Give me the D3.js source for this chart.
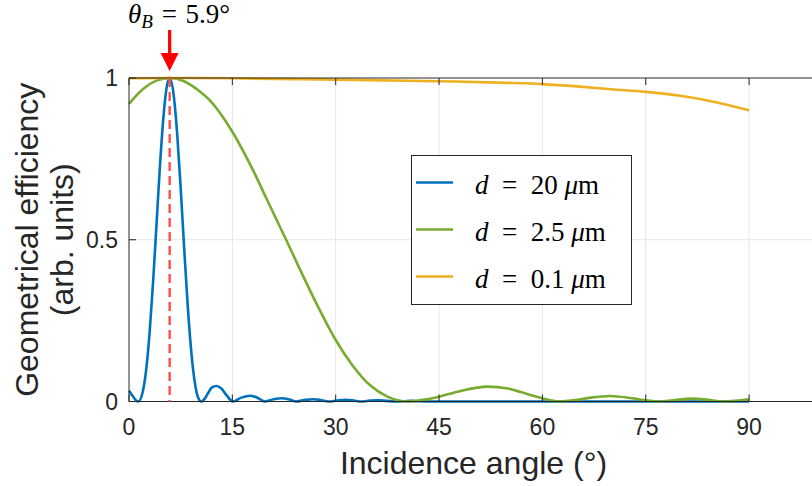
<!DOCTYPE html>
<html>
<head>
    <meta charset="utf-8">
    <title>Geometrical efficiency vs incidence angle</title>
    <script src="https://cdnjs.cloudflare.com/ajax/libs/d3/7.8.5/d3.min.js"></script>
    <style>
        body {
            margin: 0;
            padding: 0;
            background: white;
        }
        .tick-label {
            font-family: "Liberation Sans", Arial, Helvetica, sans-serif;
            font-size: 23px;
            fill: #262626;
        }
        .axis-label {
            font-family: "Liberation Sans", Arial, Helvetica, sans-serif;
            font-size: 32px;
            fill: #262626;
        }
        .math {
            font-family: "Liberation Serif", "DejaVu Serif", serif;
            fill: #000;
        }
    </style>
</head>
<body>
    <svg id="chart" width="812" height="486"></svg>

    <script>
        // Values: [angle in degrees, efficiency]
        const series20 = [
            [0, 0.033], [0.5, 0.018], [1.0, 0.004], [1.35, 0], [2.0, 0.030], [2.5, 0.099],
            [3.0, 0.215], [3.5, 0.371], [4.0, 0.550], [4.5, 0.731], [5.0, 0.880], [5.5, 0.975],
            [5.9, 1.0], [6.5, 0.945], [7.0, 0.825], [7.5, 0.660], [8.0, 0.477], [8.5, 0.304],
            [9.0, 0.163], [9.5, 0.066], [10.0, 0.014], [10.5, 0], [11.0, 0.009], [11.5, 0.027],
            [12.0, 0.043], [12.7, 0.048], [13.4, 0.040], [14.2, 0.018], [15.1, 0], [16.3, 0.012],
            [17.6, 0.018], [18.7, 0.011], [19.7, 0], [21.0, 0.007], [22.2, 0.010], [23.3, 0.006],
            [24.3, 0], [25.6, 0.005], [26.8, 0.007], [27.9, 0.004], [29.0, 0], [30.2, 0.003],
            [31.4, 0.005], [32.6, 0.003], [33.7, 0], [35.0, 0.003], [36.2, 0.004], [37.4, 0.002],
            [38.6, 0], [41.0, 0.002], [43.5, 0], [60, 0], [90, 0]
        ];
        const series25 = [
            [0, 0.92], [2, 0.965], [4, 0.992], [5.9, 1.0], [8, 0.99], [10, 0.963], [12, 0.925],
            [15, 0.834], [18, 0.715], [20, 0.625], [22.8, 0.50], [25, 0.40], [27.5, 0.29],
            [30, 0.19], [32.5, 0.11], [35, 0.05], [37.5, 0.015], [40.5, 0], [43, 0.006],
            [45, 0.015], [48, 0.032], [52, 0.046], [55, 0.04], [58, 0.022], [60, 0.01],
            [62.3, 0], [65, 0.005], [67, 0.012], [69.8, 0.017], [73, 0.01], [75, 0.004],
            [77, 0], [79, 0.004], [81.9, 0.009], [84, 0.005], [86.2, 0], [88, 0.002], [90, 0.007]
        ];
        const series01 = [
            [0, 0.999], [5.9, 1.0], [15, 0.999], [30, 0.995], [45, 0.99], [55, 0.985],
            [60, 0.981], [65, 0.974], [70, 0.965], [75, 0.957], [80, 0.945], [85, 0.926], [90, 0.90]
        ];

        const legendLabels = ['20', '2.5', '0.1'];
        const seriesColors = ['#0072BD', '#77AC30', '#EDB120'];
        const xTicks = [0, 15, 30, 45, 60, 75, 90];
        const yTicks = [0, 0.5, 1];
        const blazeAngle = 5.9;

        const width = 812;
        const height = 486;
        const plotLeft = 129, plotTop = 78, plotBottom = 401.5;

        const svg = d3.select('#chart');

        // x runs past the right edge of the picture, like the original figure
        const x = d3.scaleLinear().domain([0, 100]).range([plotLeft, plotLeft + 689]);
        const y = d3.scaleLinear().domain([0, 1]).range([plotBottom, plotTop]);

        // Grid
        const grid = svg.append('g');
        grid.selectAll('line.vgrid')
            .data(xTicks.filter(d => d > 0))
            .join('line')
            .attr('x1', d => x(d)).attr('x2', d => x(d))
            .attr('y1', plotTop).attr('y2', plotBottom)
            .attr('stroke', '#e6e6e6').attr('stroke-width', 1);
        grid.selectAll('line.hgrid')
            .data(yTicks.filter(d => d > 0 && d < 1))
            .join('line')
            .attr('x1', plotLeft).attr('x2', width)
            .attr('y1', d => y(d)).attr('y2', d => y(d))
            .attr('stroke', '#e6e6e6').attr('stroke-width', 1);

        // Curves
        const line = d3.line()
            .x(d => x(d[0]))
            .y(d => y(d[1]))
            .curve(d3.curveMonotoneX);

        const curves = [series20, series25, series01];
        svg.append('g')
            .selectAll('path')
            .data(curves)
            .join('path')
            .attr('d', d => line(d))
            .attr('fill', 'none')
            .attr('stroke', (d, i) => seriesColors[i])
            .attr('stroke-width', 2.6);

        // Axes box (left, bottom, top)
        const axisColor = '#262626';
        svg.append('line')
            .attr('x1', plotLeft).attr('x2', width).attr('y1', plotBottom).attr('y2', plotBottom)
            .attr('stroke', axisColor).attr('stroke-width', 1);
        svg.append('line')
            .attr('x1', plotLeft).attr('x2', width).attr('y1', plotTop).attr('y2', plotTop)
            .attr('stroke', axisColor).attr('stroke-width', 1);
        svg.append('line')
            .attr('x1', plotLeft).attr('x2', plotLeft).attr('y1', plotTop).attr('y2', plotBottom)
            .attr('stroke', axisColor).attr('stroke-width', 1);

        // Ticks pointing inward
        const tickG = svg.append('g').attr('stroke', axisColor).attr('stroke-width', 1);
        xTicks.forEach(t => {
            tickG.append('line').attr('x1', x(t)).attr('x2', x(t)).attr('y1', plotBottom).attr('y2', plotBottom - 7);
            tickG.append('line').attr('x1', x(t)).attr('x2', x(t)).attr('y1', plotTop).attr('y2', plotTop + 7);
        });
        yTicks.forEach(t => {
            tickG.append('line').attr('x1', plotLeft).attr('x2', plotLeft + 7).attr('y1', y(t)).attr('y2', y(t));
        });

        // Tick labels
        svg.append('g')
            .selectAll('text')
            .data(xTicks)
            .join('text')
            .attr('class', 'tick-label')
            .attr('x', d => x(d))
            .attr('y', 435)
            .attr('text-anchor', 'middle')
            .text(d => d);
        svg.append('g')
            .selectAll('text')
            .data(yTicks)
            .join('text')
            .attr('class', 'tick-label')
            .attr('x', 118)
            .attr('y', d => y(d) + 8)
            .attr('text-anchor', 'end')
            .text(d => d);

        // Axis labels
        svg.append('text')
            .attr('class', 'axis-label')
            .attr('x', x(50))
            .attr('y', 474)
            .attr('text-anchor', 'middle')
            .text('Incidence angle (°)');
        const yLabel = svg.append('text')
            .attr('class', 'axis-label')
            .attr('transform', `translate(38,${(plotTop + plotBottom) / 2}) rotate(-90)`)
            .attr('text-anchor', 'middle');
        yLabel.append('tspan').attr('x', 0).attr('dy', 0).text('Geometrical efficiency');
        yLabel.append('tspan').attr('x', 0).attr('dy', 35).text('(arb. units)');

        // Blaze angle marker
        svg.append('line')
            .attr('x1', x(blazeAngle)).attr('x2', x(blazeAngle))
            .attr('y1', y(1)).attr('y2', y(0))
            .attr('stroke', '#ff4d4d')
            .attr('stroke-width', 2.4)
            .attr('stroke-dasharray', '9,5');

        const ax = x(blazeAngle);
        svg.append('line')
            .attr('x1', ax).attr('x2', ax).attr('y1', 30).attr('y2', 55)
            .attr('stroke', '#ff0000').attr('stroke-width', 3.2);
        svg.append('path')
            .attr('d', `M${ax - 9},53L${ax + 9},53L${ax},71Z`)
            .attr('fill', '#ff0000');

        const theta = svg.append('text')
            .attr('class', 'math')
            .attr('x', 128)
            .attr('y', 23)
            .attr('font-size', 27);
        theta.append('tspan').attr('font-style', 'italic').text('θ');
        theta.append('tspan').attr('font-style', 'italic').attr('font-size', 19).attr('dy', 5).text('B');
        theta.append('tspan').attr('dy', -5).attr('dx', 2).text(' = ');
        theta.append('tspan').attr('dx', 2).text('5.9°');

        // Legend
        const legend = svg.append('g');
        legend.append('rect')
            .attr('x', 411.5).attr('y', 155.5)
            .attr('width', 220).attr('height', 149)
            .attr('fill', 'white')
            .attr('stroke', axisColor).attr('stroke-width', 1);
        const rowY = [182.5, 229.5, 276.5];
        legendLabels.forEach((lab, i) => {
            legend.append('line')
                .attr('x1', 416).attr('x2', 453)
                .attr('y1', rowY[i]).attr('y2', rowY[i])
                .attr('stroke', seriesColors[i]).attr('stroke-width', 2.6);
            const t = legend.append('text')
                .attr('class', 'math')
                .attr('x', 475)
                .attr('y', rowY[i] + 11)
                .attr('font-size', 27)
                .attr('xml:space', 'preserve');
            t.append('tspan').attr('font-style', 'italic').text('d');
            t.append('tspan').text('  =  ' + lab + ' ');
            t.append('tspan').attr('font-style', 'italic').text('μ');
            t.append('tspan').text('m');
        });
    </script>
</body>
</html>
